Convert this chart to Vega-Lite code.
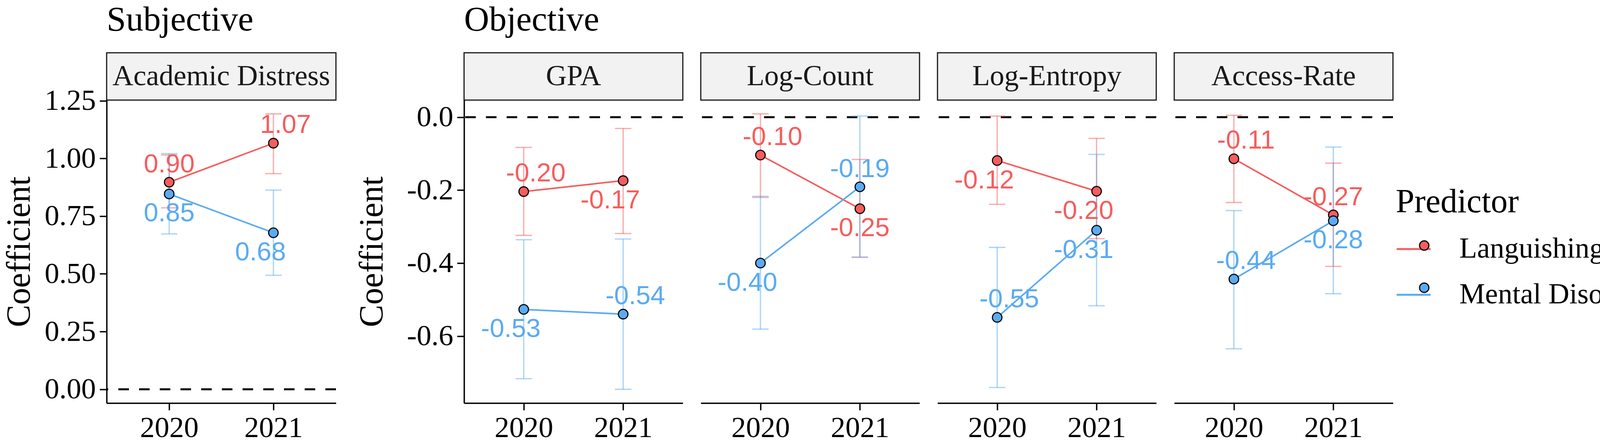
{
  "$schema": "https://vega.github.io/schema/vega-lite/v6.json",
  "background": "white",
  "padding": {"left": 6, "top": 6, "right": 10, "bottom": 0},
  "datasets": {
    "ad": [
      {"year": "2020", "predictor": "Languishing", "coef": 0.897, "lo": 0.786, "hi": 1.015, "pos": "above"},
      {"year": "2020", "predictor": "Mental Disorder", "coef": 0.846, "lo": 0.673, "hi": 1.021, "pos": "below"},
      {"year": "2021", "predictor": "Languishing", "coef": 1.066, "lo": 0.934, "hi": 1.193, "pos": "above-right"},
      {"year": "2021", "predictor": "Mental Disorder", "coef": 0.678, "lo": 0.494, "hi": 0.863, "pos": "below-left"}
    ],
    "gpa": [
      {"year": "2020", "predictor": "Languishing", "coef": -0.204, "lo": -0.324, "hi": -0.083, "pos": "above-right"},
      {"year": "2021", "predictor": "Languishing", "coef": -0.174, "lo": -0.319, "hi": -0.031, "pos": "below-left"},
      {"year": "2020", "predictor": "Mental Disorder", "coef": -0.527, "lo": -0.717, "hi": -0.336, "pos": "below-left"},
      {"year": "2021", "predictor": "Mental Disorder", "coef": -0.540, "lo": -0.746, "hi": -0.334, "pos": "above-right"}
    ],
    "lc": [
      {"year": "2020", "predictor": "Languishing", "coef": -0.104, "lo": -0.220, "hi": 0.009, "pos": "above-right"},
      {"year": "2021", "predictor": "Languishing", "coef": -0.251, "lo": -0.384, "hi": -0.116, "pos": "below"},
      {"year": "2020", "predictor": "Mental Disorder", "coef": -0.400, "lo": -0.581, "hi": -0.217, "pos": "below-left"},
      {"year": "2021", "predictor": "Mental Disorder", "coef": -0.191, "lo": -0.384, "hi": 0.003, "pos": "above"}
    ],
    "le": [
      {"year": "2020", "predictor": "Languishing", "coef": -0.119, "lo": -0.239, "hi": 0.003, "pos": "below-left"},
      {"year": "2021", "predictor": "Languishing", "coef": -0.203, "lo": -0.333, "hi": -0.058, "pos": "below-left"},
      {"year": "2020", "predictor": "Mental Disorder", "coef": -0.549, "lo": -0.741, "hi": -0.357, "pos": "above-right"},
      {"year": "2021", "predictor": "Mental Disorder", "coef": -0.310, "lo": -0.517, "hi": -0.102, "pos": "below-left"}
    ],
    "ar": [
      {"year": "2020", "predictor": "Languishing", "coef": -0.114, "lo": -0.234, "hi": 0.005, "pos": "above-right"},
      {"year": "2021", "predictor": "Languishing", "coef": -0.268, "lo": -0.409, "hi": -0.126, "pos": "above"},
      {"year": "2020", "predictor": "Mental Disorder", "coef": -0.444, "lo": -0.635, "hi": -0.256, "pos": "above-right"},
      {"year": "2021", "predictor": "Mental Disorder", "coef": -0.284, "lo": -0.484, "hi": -0.082, "pos": "below"}
    ]
  },
  "hconcat": [
    {
      "title": "Subjective",
      "spacing": 0,
      "bounds": "flush",
      "vconcat": [
        {
          "width": 587, "height": 121,
          "data": {"values": [{"panel": "Academic Distress"}]},
          "view": {"fill": "#F2F2F2", "stroke": "#1A1A1A", "strokeWidth": 3},
          "mark": {"type": "text", "font": "Liberation Serif", "fontSize": 74, "color": "#1A1A1A", "baseline": "middle"},
          "encoding": {"text": {"field": "panel"}}
        },
        {
          "width": 587, "height": 775,
          "data": {"name": "ad"},
          "layer": [
            {"data": {"values": [{"ref": 0}]},
             "mark": {"type": "rule", "color": "black", "strokeWidth": 5, "strokeDash": [27, 26]},
             "encoding": {"y": {"field": "ref", "type": "quantitative", "scale": {"domain": [-0.0597, 1.2527], "nice": false, "zero": false}, "axis": {"values": [0, 0.25, 0.5, 0.75, 1, 1.25], "format": ".2f", "title": "Coefficient", "titlePadding": 20}}}},
            {"mark": {"type": "rule", "strokeWidth": 3.3, "opacity": 0.5},
             "encoding": {
               "x": {"field": "year", "type": "ordinal", "scale": {"type": "point", "padding": 0.6}, "axis": {"title": null}},
               "y": {"field": "lo", "type": "quantitative", "scale": {"domain": [-0.0597, 1.2527], "nice": false, "zero": false}, "axis": {"values": [0, 0.25, 0.5, 0.75, 1, 1.25], "format": ".2f", "title": "Coefficient", "titlePadding": 20}},
               "y2": {"field": "hi"},
               "color": {"field": "predictor", "type": "nominal", "sort": ["Languishing", "Mental Disorder"], "scale": {"range": ["#F65D5D", "#5AABF2"]}, "legend": null}}},
            {"mark": {"type": "tick", "size": 42, "thickness": 3.3, "opacity": 0.5},
             "encoding": {
               "x": {"field": "year", "type": "ordinal", "scale": {"type": "point", "padding": 0.6}, "axis": {"title": null}},
               "y": {"field": "lo", "type": "quantitative", "scale": {"domain": [-0.0597, 1.2527], "nice": false, "zero": false}, "axis": {"values": [0, 0.25, 0.5, 0.75, 1, 1.25], "format": ".2f", "title": "Coefficient", "titlePadding": 20}},
               "color": {"field": "predictor", "type": "nominal", "sort": ["Languishing", "Mental Disorder"], "scale": {"range": ["#F65D5D", "#5AABF2"]}, "legend": null}}},
            {"mark": {"type": "tick", "size": 42, "thickness": 3.3, "opacity": 0.5},
             "encoding": {
               "x": {"field": "year", "type": "ordinal", "scale": {"type": "point", "padding": 0.6}, "axis": {"title": null}},
               "y": {"field": "hi", "type": "quantitative", "scale": {"domain": [-0.0597, 1.2527], "nice": false, "zero": false}, "axis": {"values": [0, 0.25, 0.5, 0.75, 1, 1.25], "format": ".2f", "title": "Coefficient", "titlePadding": 20}},
               "color": {"field": "predictor", "type": "nominal", "sort": ["Languishing", "Mental Disorder"], "scale": {"range": ["#F65D5D", "#5AABF2"]}, "legend": null}}},
            {"mark": {"type": "line", "strokeWidth": 4},
             "encoding": {
               "x": {"field": "year", "type": "ordinal", "scale": {"type": "point", "padding": 0.6}, "axis": {"title": null}},
               "y": {"field": "coef", "type": "quantitative", "scale": {"domain": [-0.0597, 1.2527], "nice": false, "zero": false}, "axis": {"values": [0, 0.25, 0.5, 0.75, 1, 1.25], "format": ".2f", "title": "Coefficient", "titlePadding": 20}},
               "stroke": {"field": "predictor", "type": "nominal", "scale": {"range": ["#F65D5D", "#5AABF2"]},
                 "legend": {"title": "Predictor", "orient": "none", "legendX": 3300, "legendY": 340, "symbolType": "stroke", "symbolSize": 7569, "symbolStrokeWidth": 5, "labelOffset": 71}}}},
            {"mark": {"type": "point", "filled": true, "size": 600, "stroke": "black", "strokeWidth": 2.8, "opacity": 1},
             "encoding": {
               "x": {"field": "year", "type": "ordinal", "scale": {"type": "point", "padding": 0.6}, "axis": {"title": null}},
               "y": {"field": "coef", "type": "quantitative", "scale": {"domain": [-0.0597, 1.2527], "nice": false, "zero": false}, "axis": {"values": [0, 0.25, 0.5, 0.75, 1, 1.25], "format": ".2f", "title": "Coefficient", "titlePadding": 20}},
               "fill": {"field": "predictor", "type": "nominal", "scale": {"domain": ["Languishing", "Mental Disorder"], "range": ["#F65D5D", "#5AABF2"]},
                 "legend": {"title": " ", "orient": "none", "legendX": 3336, "legendY": 340, "symbolType": "circle", "symbolSize": 576, "symbolStrokeColor": "black", "symbolStrokeWidth": 2.8, "symbolOpacity": 1, "labelExpr": "''"}}}},
            {"transform": [{"filter": "datum.pos === 'above'"}],
             "mark": {"type": "text", "font": "Liberation Sans", "fontSize": 67, "baseline": "middle", "dx": 0, "dy": -45},
             "encoding": {
               "x": {"field": "year", "type": "ordinal", "scale": {"type": "point", "padding": 0.6}, "axis": {"title": null}},
               "y": {"field": "coef", "type": "quantitative", "scale": {"domain": [-0.0597, 1.2527], "nice": false, "zero": false}, "axis": {"values": [0, 0.25, 0.5, 0.75, 1, 1.25], "format": ".2f", "title": "Coefficient", "titlePadding": 20}},
               "text": {"field": "coef", "type": "quantitative", "format": ".2f"},
               "color": {"field": "predictor", "type": "nominal", "sort": ["Languishing", "Mental Disorder"], "scale": {"range": ["#F65D5D", "#5AABF2"]}, "legend": null}}},
            {"transform": [{"filter": "datum.pos === 'below'"}],
             "mark": {"type": "text", "font": "Liberation Sans", "fontSize": 67, "baseline": "middle", "dx": 0, "dy": 50},
             "encoding": {
               "x": {"field": "year", "type": "ordinal", "scale": {"type": "point", "padding": 0.6}, "axis": {"title": null}},
               "y": {"field": "coef", "type": "quantitative", "scale": {"domain": [-0.0597, 1.2527], "nice": false, "zero": false}, "axis": {"values": [0, 0.25, 0.5, 0.75, 1, 1.25], "format": ".2f", "title": "Coefficient", "titlePadding": 20}},
               "text": {"field": "coef", "type": "quantitative", "format": ".2f"},
               "color": {"field": "predictor", "type": "nominal", "sort": ["Languishing", "Mental Disorder"], "scale": {"range": ["#F65D5D", "#5AABF2"]}, "legend": null}}},
            {"transform": [{"filter": "datum.pos === 'above-right'"}],
             "mark": {"type": "text", "font": "Liberation Sans", "fontSize": 67, "baseline": "middle", "dx": 31, "dy": -46},
             "encoding": {
               "x": {"field": "year", "type": "ordinal", "scale": {"type": "point", "padding": 0.6}, "axis": {"title": null}},
               "y": {"field": "coef", "type": "quantitative", "scale": {"domain": [-0.0597, 1.2527], "nice": false, "zero": false}, "axis": {"values": [0, 0.25, 0.5, 0.75, 1, 1.25], "format": ".2f", "title": "Coefficient", "titlePadding": 20}},
               "text": {"field": "coef", "type": "quantitative", "format": ".2f"},
               "color": {"field": "predictor", "type": "nominal", "sort": ["Languishing", "Mental Disorder"], "scale": {"range": ["#F65D5D", "#5AABF2"]}, "legend": null}}},
            {"transform": [{"filter": "datum.pos === 'below-left'"}],
             "mark": {"type": "text", "font": "Liberation Sans", "fontSize": 67, "baseline": "middle", "dx": -33, "dy": 51},
             "encoding": {
               "x": {"field": "year", "type": "ordinal", "scale": {"type": "point", "padding": 0.6}, "axis": {"title": null}},
               "y": {"field": "coef", "type": "quantitative", "scale": {"domain": [-0.0597, 1.2527], "nice": false, "zero": false}, "axis": {"values": [0, 0.25, 0.5, 0.75, 1, 1.25], "format": ".2f", "title": "Coefficient", "titlePadding": 20}},
               "text": {"field": "coef", "type": "quantitative", "format": ".2f"},
               "color": {"field": "predictor", "type": "nominal", "sort": ["Languishing", "Mental Disorder"], "scale": {"range": ["#F65D5D", "#5AABF2"]}, "legend": null}}}
          ]
        }
      ]
    },
    {
      "title": "Objective",
      "spacing": 40,
      "hconcat": [
        {
          "spacing": 0,
          "bounds": "flush",
          "vconcat": [
            {
              "width": 560, "height": 121,
              "data": {"values": [{"panel": "GPA"}]},
              "view": {"fill": "#F2F2F2", "stroke": "#1A1A1A", "strokeWidth": 3},
              "mark": {"type": "text", "font": "Liberation Serif", "fontSize": 74, "color": "#1A1A1A", "baseline": "middle"},
              "encoding": {"text": {"field": "panel"}}
            },
            {
              "width": 560, "height": 775,
              "data": {"name": "gpa"},
              "layer": [
                {"data": {"values": [{"ref": 0}]},
                 "mark": {"type": "rule", "color": "black", "strokeWidth": 5, "strokeDash": [27, 26]},
                 "encoding": {"y": {"field": "ref", "type": "quantitative", "scale": {"domain": [-0.7838, 0.0468], "nice": false, "zero": false}, "axis": {"values": [-0.6, -0.4, -0.2, 0], "format": ".1f", "title": "Coefficient", "titlePadding": 45}}}},
                {"mark": {"type": "rule", "strokeWidth": 3.3, "opacity": 0.5},
                 "encoding": {
                   "x": {"field": "year", "type": "ordinal", "scale": {"type": "point", "padding": 0.6}, "axis": {"title": null}},
                   "y": {"field": "lo", "type": "quantitative", "scale": {"domain": [-0.7838, 0.0468], "nice": false, "zero": false}, "axis": {"values": [-0.6, -0.4, -0.2, 0], "format": ".1f", "title": "Coefficient", "titlePadding": 45}},
                   "y2": {"field": "hi"},
                   "color": {"field": "predictor", "type": "nominal", "sort": ["Languishing", "Mental Disorder"], "scale": {"range": ["#F65D5D", "#5AABF2"]}, "legend": null}}},
                {"mark": {"type": "tick", "size": 42, "thickness": 3.3, "opacity": 0.5},
                 "encoding": {
                   "x": {"field": "year", "type": "ordinal", "scale": {"type": "point", "padding": 0.6}, "axis": {"title": null}},
                   "y": {"field": "lo", "type": "quantitative", "scale": {"domain": [-0.7838, 0.0468], "nice": false, "zero": false}, "axis": {"values": [-0.6, -0.4, -0.2, 0], "format": ".1f", "title": "Coefficient", "titlePadding": 45}},
                   "color": {"field": "predictor", "type": "nominal", "sort": ["Languishing", "Mental Disorder"], "scale": {"range": ["#F65D5D", "#5AABF2"]}, "legend": null}}},
                {"mark": {"type": "tick", "size": 42, "thickness": 3.3, "opacity": 0.5},
                 "encoding": {
                   "x": {"field": "year", "type": "ordinal", "scale": {"type": "point", "padding": 0.6}, "axis": {"title": null}},
                   "y": {"field": "hi", "type": "quantitative", "scale": {"domain": [-0.7838, 0.0468], "nice": false, "zero": false}, "axis": {"values": [-0.6, -0.4, -0.2, 0], "format": ".1f", "title": "Coefficient", "titlePadding": 45}},
                   "color": {"field": "predictor", "type": "nominal", "sort": ["Languishing", "Mental Disorder"], "scale": {"range": ["#F65D5D", "#5AABF2"]}, "legend": null}}},
                {"mark": {"type": "line", "strokeWidth": 4},
                 "encoding": {
                   "x": {"field": "year", "type": "ordinal", "scale": {"type": "point", "padding": 0.6}, "axis": {"title": null}},
                   "y": {"field": "coef", "type": "quantitative", "scale": {"domain": [-0.7838, 0.0468], "nice": false, "zero": false}, "axis": {"values": [-0.6, -0.4, -0.2, 0], "format": ".1f", "title": "Coefficient", "titlePadding": 45}},
                   "stroke": {"field": "predictor", "type": "nominal", "scale": {"range": ["#F65D5D", "#5AABF2"]}}}},
                {"mark": {"type": "point", "filled": true, "size": 600, "stroke": "black", "strokeWidth": 2.8, "opacity": 1},
                 "encoding": {
                   "x": {"field": "year", "type": "ordinal", "scale": {"type": "point", "padding": 0.6}, "axis": {"title": null}},
                   "y": {"field": "coef", "type": "quantitative", "scale": {"domain": [-0.7838, 0.0468], "nice": false, "zero": false}, "axis": {"values": [-0.6, -0.4, -0.2, 0], "format": ".1f", "title": "Coefficient", "titlePadding": 45}},
                   "fill": {"field": "predictor", "type": "nominal", "scale": {"domain": ["Languishing", "Mental Disorder"], "range": ["#F65D5D", "#5AABF2"]}}}},
                {"transform": [{"filter": "datum.pos === 'above'"}],
                 "mark": {"type": "text", "font": "Liberation Sans", "fontSize": 67, "baseline": "middle", "dx": 0, "dy": -45},
                 "encoding": {
                   "x": {"field": "year", "type": "ordinal", "scale": {"type": "point", "padding": 0.6}, "axis": {"title": null}},
                   "y": {"field": "coef", "type": "quantitative", "scale": {"domain": [-0.7838, 0.0468], "nice": false, "zero": false}, "axis": {"values": [-0.6, -0.4, -0.2, 0], "format": ".1f", "title": "Coefficient", "titlePadding": 45}},
                   "text": {"field": "coef", "type": "quantitative", "format": ".2f"},
                   "color": {"field": "predictor", "type": "nominal", "sort": ["Languishing", "Mental Disorder"], "scale": {"range": ["#F65D5D", "#5AABF2"]}, "legend": null}}},
                {"transform": [{"filter": "datum.pos === 'below'"}],
                 "mark": {"type": "text", "font": "Liberation Sans", "fontSize": 67, "baseline": "middle", "dx": 0, "dy": 50},
                 "encoding": {
                   "x": {"field": "year", "type": "ordinal", "scale": {"type": "point", "padding": 0.6}, "axis": {"title": null}},
                   "y": {"field": "coef", "type": "quantitative", "scale": {"domain": [-0.7838, 0.0468], "nice": false, "zero": false}, "axis": {"values": [-0.6, -0.4, -0.2, 0], "format": ".1f", "title": "Coefficient", "titlePadding": 45}},
                   "text": {"field": "coef", "type": "quantitative", "format": ".2f"},
                   "color": {"field": "predictor", "type": "nominal", "sort": ["Languishing", "Mental Disorder"], "scale": {"range": ["#F65D5D", "#5AABF2"]}, "legend": null}}},
                {"transform": [{"filter": "datum.pos === 'above-right'"}],
                 "mark": {"type": "text", "font": "Liberation Sans", "fontSize": 67, "baseline": "middle", "dx": 31, "dy": -46},
                 "encoding": {
                   "x": {"field": "year", "type": "ordinal", "scale": {"type": "point", "padding": 0.6}, "axis": {"title": null}},
                   "y": {"field": "coef", "type": "quantitative", "scale": {"domain": [-0.7838, 0.0468], "nice": false, "zero": false}, "axis": {"values": [-0.6, -0.4, -0.2, 0], "format": ".1f", "title": "Coefficient", "titlePadding": 45}},
                   "text": {"field": "coef", "type": "quantitative", "format": ".2f"},
                   "color": {"field": "predictor", "type": "nominal", "sort": ["Languishing", "Mental Disorder"], "scale": {"range": ["#F65D5D", "#5AABF2"]}, "legend": null}}},
                {"transform": [{"filter": "datum.pos === 'below-left'"}],
                 "mark": {"type": "text", "font": "Liberation Sans", "fontSize": 67, "baseline": "middle", "dx": -33, "dy": 51},
                 "encoding": {
                   "x": {"field": "year", "type": "ordinal", "scale": {"type": "point", "padding": 0.6}, "axis": {"title": null}},
                   "y": {"field": "coef", "type": "quantitative", "scale": {"domain": [-0.7838, 0.0468], "nice": false, "zero": false}, "axis": {"values": [-0.6, -0.4, -0.2, 0], "format": ".1f", "title": "Coefficient", "titlePadding": 45}},
                   "text": {"field": "coef", "type": "quantitative", "format": ".2f"},
                   "color": {"field": "predictor", "type": "nominal", "sort": ["Languishing", "Mental Disorder"], "scale": {"range": ["#F65D5D", "#5AABF2"]}, "legend": null}}}
              ]
            }
          ]
        },
        {
          "spacing": 0,
          "bounds": "flush",
          "vconcat": [
            {
              "width": 560, "height": 121,
              "data": {"values": [{"panel": "Log-Count"}]},
              "view": {"fill": "#F2F2F2", "stroke": "#1A1A1A", "strokeWidth": 3},
              "mark": {"type": "text", "font": "Liberation Serif", "fontSize": 74, "color": "#1A1A1A", "baseline": "middle"},
              "encoding": {"text": {"field": "panel"}}
            },
            {
              "width": 560, "height": 775,
              "data": {"name": "lc"},
              "layer": [
                {"data": {"values": [{"ref": 0}]},
                 "mark": {"type": "rule", "color": "black", "strokeWidth": 5, "strokeDash": [27, 26]},
                 "encoding": {"y": {"field": "ref", "type": "quantitative", "scale": {"domain": [-0.7838, 0.0468], "nice": false, "zero": false}, "axis": null}}},
                {"mark": {"type": "rule", "strokeWidth": 3.3, "opacity": 0.5},
                 "encoding": {
                   "x": {"field": "year", "type": "ordinal", "scale": {"type": "point", "padding": 0.6}, "axis": {"title": null}},
                   "y": {"field": "lo", "type": "quantitative", "scale": {"domain": [-0.7838, 0.0468], "nice": false, "zero": false}, "axis": null},
                   "y2": {"field": "hi"},
                   "color": {"field": "predictor", "type": "nominal", "sort": ["Languishing", "Mental Disorder"], "scale": {"range": ["#F65D5D", "#5AABF2"]}, "legend": null}}},
                {"mark": {"type": "tick", "size": 42, "thickness": 3.3, "opacity": 0.5},
                 "encoding": {
                   "x": {"field": "year", "type": "ordinal", "scale": {"type": "point", "padding": 0.6}, "axis": {"title": null}},
                   "y": {"field": "lo", "type": "quantitative", "scale": {"domain": [-0.7838, 0.0468], "nice": false, "zero": false}, "axis": null},
                   "color": {"field": "predictor", "type": "nominal", "sort": ["Languishing", "Mental Disorder"], "scale": {"range": ["#F65D5D", "#5AABF2"]}, "legend": null}}},
                {"mark": {"type": "tick", "size": 42, "thickness": 3.3, "opacity": 0.5},
                 "encoding": {
                   "x": {"field": "year", "type": "ordinal", "scale": {"type": "point", "padding": 0.6}, "axis": {"title": null}},
                   "y": {"field": "hi", "type": "quantitative", "scale": {"domain": [-0.7838, 0.0468], "nice": false, "zero": false}, "axis": null},
                   "color": {"field": "predictor", "type": "nominal", "sort": ["Languishing", "Mental Disorder"], "scale": {"range": ["#F65D5D", "#5AABF2"]}, "legend": null}}},
                {"mark": {"type": "line", "strokeWidth": 4},
                 "encoding": {
                   "x": {"field": "year", "type": "ordinal", "scale": {"type": "point", "padding": 0.6}, "axis": {"title": null}},
                   "y": {"field": "coef", "type": "quantitative", "scale": {"domain": [-0.7838, 0.0468], "nice": false, "zero": false}, "axis": null},
                   "stroke": {"field": "predictor", "type": "nominal", "scale": {"range": ["#F65D5D", "#5AABF2"]}}}},
                {"mark": {"type": "point", "filled": true, "size": 600, "stroke": "black", "strokeWidth": 2.8, "opacity": 1},
                 "encoding": {
                   "x": {"field": "year", "type": "ordinal", "scale": {"type": "point", "padding": 0.6}, "axis": {"title": null}},
                   "y": {"field": "coef", "type": "quantitative", "scale": {"domain": [-0.7838, 0.0468], "nice": false, "zero": false}, "axis": null},
                   "fill": {"field": "predictor", "type": "nominal", "scale": {"domain": ["Languishing", "Mental Disorder"], "range": ["#F65D5D", "#5AABF2"]}}}},
                {"transform": [{"filter": "datum.pos === 'above'"}],
                 "mark": {"type": "text", "font": "Liberation Sans", "fontSize": 67, "baseline": "middle", "dx": 0, "dy": -45},
                 "encoding": {
                   "x": {"field": "year", "type": "ordinal", "scale": {"type": "point", "padding": 0.6}, "axis": {"title": null}},
                   "y": {"field": "coef", "type": "quantitative", "scale": {"domain": [-0.7838, 0.0468], "nice": false, "zero": false}, "axis": null},
                   "text": {"field": "coef", "type": "quantitative", "format": ".2f"},
                   "color": {"field": "predictor", "type": "nominal", "sort": ["Languishing", "Mental Disorder"], "scale": {"range": ["#F65D5D", "#5AABF2"]}, "legend": null}}},
                {"transform": [{"filter": "datum.pos === 'below'"}],
                 "mark": {"type": "text", "font": "Liberation Sans", "fontSize": 67, "baseline": "middle", "dx": 0, "dy": 50},
                 "encoding": {
                   "x": {"field": "year", "type": "ordinal", "scale": {"type": "point", "padding": 0.6}, "axis": {"title": null}},
                   "y": {"field": "coef", "type": "quantitative", "scale": {"domain": [-0.7838, 0.0468], "nice": false, "zero": false}, "axis": null},
                   "text": {"field": "coef", "type": "quantitative", "format": ".2f"},
                   "color": {"field": "predictor", "type": "nominal", "sort": ["Languishing", "Mental Disorder"], "scale": {"range": ["#F65D5D", "#5AABF2"]}, "legend": null}}},
                {"transform": [{"filter": "datum.pos === 'above-right'"}],
                 "mark": {"type": "text", "font": "Liberation Sans", "fontSize": 67, "baseline": "middle", "dx": 31, "dy": -46},
                 "encoding": {
                   "x": {"field": "year", "type": "ordinal", "scale": {"type": "point", "padding": 0.6}, "axis": {"title": null}},
                   "y": {"field": "coef", "type": "quantitative", "scale": {"domain": [-0.7838, 0.0468], "nice": false, "zero": false}, "axis": null},
                   "text": {"field": "coef", "type": "quantitative", "format": ".2f"},
                   "color": {"field": "predictor", "type": "nominal", "sort": ["Languishing", "Mental Disorder"], "scale": {"range": ["#F65D5D", "#5AABF2"]}, "legend": null}}},
                {"transform": [{"filter": "datum.pos === 'below-left'"}],
                 "mark": {"type": "text", "font": "Liberation Sans", "fontSize": 67, "baseline": "middle", "dx": -33, "dy": 51},
                 "encoding": {
                   "x": {"field": "year", "type": "ordinal", "scale": {"type": "point", "padding": 0.6}, "axis": {"title": null}},
                   "y": {"field": "coef", "type": "quantitative", "scale": {"domain": [-0.7838, 0.0468], "nice": false, "zero": false}, "axis": null},
                   "text": {"field": "coef", "type": "quantitative", "format": ".2f"},
                   "color": {"field": "predictor", "type": "nominal", "sort": ["Languishing", "Mental Disorder"], "scale": {"range": ["#F65D5D", "#5AABF2"]}, "legend": null}}}
              ]
            }
          ]
        },
        {
          "spacing": 0,
          "bounds": "flush",
          "vconcat": [
            {
              "width": 560, "height": 121,
              "data": {"values": [{"panel": "Log-Entropy"}]},
              "view": {"fill": "#F2F2F2", "stroke": "#1A1A1A", "strokeWidth": 3},
              "mark": {"type": "text", "font": "Liberation Serif", "fontSize": 74, "color": "#1A1A1A", "baseline": "middle"},
              "encoding": {"text": {"field": "panel"}}
            },
            {
              "width": 560, "height": 775,
              "data": {"name": "le"},
              "layer": [
                {"data": {"values": [{"ref": 0}]},
                 "mark": {"type": "rule", "color": "black", "strokeWidth": 5, "strokeDash": [27, 26]},
                 "encoding": {"y": {"field": "ref", "type": "quantitative", "scale": {"domain": [-0.7838, 0.0468], "nice": false, "zero": false}, "axis": null}}},
                {"mark": {"type": "rule", "strokeWidth": 3.3, "opacity": 0.5},
                 "encoding": {
                   "x": {"field": "year", "type": "ordinal", "scale": {"type": "point", "padding": 0.6}, "axis": {"title": null}},
                   "y": {"field": "lo", "type": "quantitative", "scale": {"domain": [-0.7838, 0.0468], "nice": false, "zero": false}, "axis": null},
                   "y2": {"field": "hi"},
                   "color": {"field": "predictor", "type": "nominal", "sort": ["Languishing", "Mental Disorder"], "scale": {"range": ["#F65D5D", "#5AABF2"]}, "legend": null}}},
                {"mark": {"type": "tick", "size": 42, "thickness": 3.3, "opacity": 0.5},
                 "encoding": {
                   "x": {"field": "year", "type": "ordinal", "scale": {"type": "point", "padding": 0.6}, "axis": {"title": null}},
                   "y": {"field": "lo", "type": "quantitative", "scale": {"domain": [-0.7838, 0.0468], "nice": false, "zero": false}, "axis": null},
                   "color": {"field": "predictor", "type": "nominal", "sort": ["Languishing", "Mental Disorder"], "scale": {"range": ["#F65D5D", "#5AABF2"]}, "legend": null}}},
                {"mark": {"type": "tick", "size": 42, "thickness": 3.3, "opacity": 0.5},
                 "encoding": {
                   "x": {"field": "year", "type": "ordinal", "scale": {"type": "point", "padding": 0.6}, "axis": {"title": null}},
                   "y": {"field": "hi", "type": "quantitative", "scale": {"domain": [-0.7838, 0.0468], "nice": false, "zero": false}, "axis": null},
                   "color": {"field": "predictor", "type": "nominal", "sort": ["Languishing", "Mental Disorder"], "scale": {"range": ["#F65D5D", "#5AABF2"]}, "legend": null}}},
                {"mark": {"type": "line", "strokeWidth": 4},
                 "encoding": {
                   "x": {"field": "year", "type": "ordinal", "scale": {"type": "point", "padding": 0.6}, "axis": {"title": null}},
                   "y": {"field": "coef", "type": "quantitative", "scale": {"domain": [-0.7838, 0.0468], "nice": false, "zero": false}, "axis": null},
                   "stroke": {"field": "predictor", "type": "nominal", "scale": {"range": ["#F65D5D", "#5AABF2"]}}}},
                {"mark": {"type": "point", "filled": true, "size": 600, "stroke": "black", "strokeWidth": 2.8, "opacity": 1},
                 "encoding": {
                   "x": {"field": "year", "type": "ordinal", "scale": {"type": "point", "padding": 0.6}, "axis": {"title": null}},
                   "y": {"field": "coef", "type": "quantitative", "scale": {"domain": [-0.7838, 0.0468], "nice": false, "zero": false}, "axis": null},
                   "fill": {"field": "predictor", "type": "nominal", "scale": {"domain": ["Languishing", "Mental Disorder"], "range": ["#F65D5D", "#5AABF2"]}}}},
                {"transform": [{"filter": "datum.pos === 'above'"}],
                 "mark": {"type": "text", "font": "Liberation Sans", "fontSize": 67, "baseline": "middle", "dx": 0, "dy": -45},
                 "encoding": {
                   "x": {"field": "year", "type": "ordinal", "scale": {"type": "point", "padding": 0.6}, "axis": {"title": null}},
                   "y": {"field": "coef", "type": "quantitative", "scale": {"domain": [-0.7838, 0.0468], "nice": false, "zero": false}, "axis": null},
                   "text": {"field": "coef", "type": "quantitative", "format": ".2f"},
                   "color": {"field": "predictor", "type": "nominal", "sort": ["Languishing", "Mental Disorder"], "scale": {"range": ["#F65D5D", "#5AABF2"]}, "legend": null}}},
                {"transform": [{"filter": "datum.pos === 'below'"}],
                 "mark": {"type": "text", "font": "Liberation Sans", "fontSize": 67, "baseline": "middle", "dx": 0, "dy": 50},
                 "encoding": {
                   "x": {"field": "year", "type": "ordinal", "scale": {"type": "point", "padding": 0.6}, "axis": {"title": null}},
                   "y": {"field": "coef", "type": "quantitative", "scale": {"domain": [-0.7838, 0.0468], "nice": false, "zero": false}, "axis": null},
                   "text": {"field": "coef", "type": "quantitative", "format": ".2f"},
                   "color": {"field": "predictor", "type": "nominal", "sort": ["Languishing", "Mental Disorder"], "scale": {"range": ["#F65D5D", "#5AABF2"]}, "legend": null}}},
                {"transform": [{"filter": "datum.pos === 'above-right'"}],
                 "mark": {"type": "text", "font": "Liberation Sans", "fontSize": 67, "baseline": "middle", "dx": 31, "dy": -46},
                 "encoding": {
                   "x": {"field": "year", "type": "ordinal", "scale": {"type": "point", "padding": 0.6}, "axis": {"title": null}},
                   "y": {"field": "coef", "type": "quantitative", "scale": {"domain": [-0.7838, 0.0468], "nice": false, "zero": false}, "axis": null},
                   "text": {"field": "coef", "type": "quantitative", "format": ".2f"},
                   "color": {"field": "predictor", "type": "nominal", "sort": ["Languishing", "Mental Disorder"], "scale": {"range": ["#F65D5D", "#5AABF2"]}, "legend": null}}},
                {"transform": [{"filter": "datum.pos === 'below-left'"}],
                 "mark": {"type": "text", "font": "Liberation Sans", "fontSize": 67, "baseline": "middle", "dx": -33, "dy": 51},
                 "encoding": {
                   "x": {"field": "year", "type": "ordinal", "scale": {"type": "point", "padding": 0.6}, "axis": {"title": null}},
                   "y": {"field": "coef", "type": "quantitative", "scale": {"domain": [-0.7838, 0.0468], "nice": false, "zero": false}, "axis": null},
                   "text": {"field": "coef", "type": "quantitative", "format": ".2f"},
                   "color": {"field": "predictor", "type": "nominal", "sort": ["Languishing", "Mental Disorder"], "scale": {"range": ["#F65D5D", "#5AABF2"]}, "legend": null}}}
              ]
            }
          ]
        },
        {
          "spacing": 0,
          "bounds": "flush",
          "vconcat": [
            {
              "width": 560, "height": 121,
              "data": {"values": [{"panel": "Access-Rate"}]},
              "view": {"fill": "#F2F2F2", "stroke": "#1A1A1A", "strokeWidth": 3},
              "mark": {"type": "text", "font": "Liberation Serif", "fontSize": 74, "color": "#1A1A1A", "baseline": "middle"},
              "encoding": {"text": {"field": "panel"}}
            },
            {
              "width": 560, "height": 775,
              "data": {"name": "ar"},
              "layer": [
                {"data": {"values": [{"ref": 0}]},
                 "mark": {"type": "rule", "color": "black", "strokeWidth": 5, "strokeDash": [27, 26]},
                 "encoding": {"y": {"field": "ref", "type": "quantitative", "scale": {"domain": [-0.7838, 0.0468], "nice": false, "zero": false}, "axis": null}}},
                {"mark": {"type": "rule", "strokeWidth": 3.3, "opacity": 0.5},
                 "encoding": {
                   "x": {"field": "year", "type": "ordinal", "scale": {"type": "point", "padding": 0.6}, "axis": {"title": null}},
                   "y": {"field": "lo", "type": "quantitative", "scale": {"domain": [-0.7838, 0.0468], "nice": false, "zero": false}, "axis": null},
                   "y2": {"field": "hi"},
                   "color": {"field": "predictor", "type": "nominal", "sort": ["Languishing", "Mental Disorder"], "scale": {"range": ["#F65D5D", "#5AABF2"]}, "legend": null}}},
                {"mark": {"type": "tick", "size": 42, "thickness": 3.3, "opacity": 0.5},
                 "encoding": {
                   "x": {"field": "year", "type": "ordinal", "scale": {"type": "point", "padding": 0.6}, "axis": {"title": null}},
                   "y": {"field": "lo", "type": "quantitative", "scale": {"domain": [-0.7838, 0.0468], "nice": false, "zero": false}, "axis": null},
                   "color": {"field": "predictor", "type": "nominal", "sort": ["Languishing", "Mental Disorder"], "scale": {"range": ["#F65D5D", "#5AABF2"]}, "legend": null}}},
                {"mark": {"type": "tick", "size": 42, "thickness": 3.3, "opacity": 0.5},
                 "encoding": {
                   "x": {"field": "year", "type": "ordinal", "scale": {"type": "point", "padding": 0.6}, "axis": {"title": null}},
                   "y": {"field": "hi", "type": "quantitative", "scale": {"domain": [-0.7838, 0.0468], "nice": false, "zero": false}, "axis": null},
                   "color": {"field": "predictor", "type": "nominal", "sort": ["Languishing", "Mental Disorder"], "scale": {"range": ["#F65D5D", "#5AABF2"]}, "legend": null}}},
                {"mark": {"type": "line", "strokeWidth": 4},
                 "encoding": {
                   "x": {"field": "year", "type": "ordinal", "scale": {"type": "point", "padding": 0.6}, "axis": {"title": null}},
                   "y": {"field": "coef", "type": "quantitative", "scale": {"domain": [-0.7838, 0.0468], "nice": false, "zero": false}, "axis": null},
                   "stroke": {"field": "predictor", "type": "nominal", "scale": {"range": ["#F65D5D", "#5AABF2"]}}}},
                {"mark": {"type": "point", "filled": true, "size": 600, "stroke": "black", "strokeWidth": 2.8, "opacity": 1},
                 "encoding": {
                   "x": {"field": "year", "type": "ordinal", "scale": {"type": "point", "padding": 0.6}, "axis": {"title": null}},
                   "y": {"field": "coef", "type": "quantitative", "scale": {"domain": [-0.7838, 0.0468], "nice": false, "zero": false}, "axis": null},
                   "fill": {"field": "predictor", "type": "nominal", "scale": {"domain": ["Languishing", "Mental Disorder"], "range": ["#F65D5D", "#5AABF2"]}}}},
                {"transform": [{"filter": "datum.pos === 'above'"}],
                 "mark": {"type": "text", "font": "Liberation Sans", "fontSize": 67, "baseline": "middle", "dx": 0, "dy": -45},
                 "encoding": {
                   "x": {"field": "year", "type": "ordinal", "scale": {"type": "point", "padding": 0.6}, "axis": {"title": null}},
                   "y": {"field": "coef", "type": "quantitative", "scale": {"domain": [-0.7838, 0.0468], "nice": false, "zero": false}, "axis": null},
                   "text": {"field": "coef", "type": "quantitative", "format": ".2f"},
                   "color": {"field": "predictor", "type": "nominal", "sort": ["Languishing", "Mental Disorder"], "scale": {"range": ["#F65D5D", "#5AABF2"]}, "legend": null}}},
                {"transform": [{"filter": "datum.pos === 'below'"}],
                 "mark": {"type": "text", "font": "Liberation Sans", "fontSize": 67, "baseline": "middle", "dx": 0, "dy": 50},
                 "encoding": {
                   "x": {"field": "year", "type": "ordinal", "scale": {"type": "point", "padding": 0.6}, "axis": {"title": null}},
                   "y": {"field": "coef", "type": "quantitative", "scale": {"domain": [-0.7838, 0.0468], "nice": false, "zero": false}, "axis": null},
                   "text": {"field": "coef", "type": "quantitative", "format": ".2f"},
                   "color": {"field": "predictor", "type": "nominal", "sort": ["Languishing", "Mental Disorder"], "scale": {"range": ["#F65D5D", "#5AABF2"]}, "legend": null}}},
                {"transform": [{"filter": "datum.pos === 'above-right'"}],
                 "mark": {"type": "text", "font": "Liberation Sans", "fontSize": 67, "baseline": "middle", "dx": 31, "dy": -46},
                 "encoding": {
                   "x": {"field": "year", "type": "ordinal", "scale": {"type": "point", "padding": 0.6}, "axis": {"title": null}},
                   "y": {"field": "coef", "type": "quantitative", "scale": {"domain": [-0.7838, 0.0468], "nice": false, "zero": false}, "axis": null},
                   "text": {"field": "coef", "type": "quantitative", "format": ".2f"},
                   "color": {"field": "predictor", "type": "nominal", "sort": ["Languishing", "Mental Disorder"], "scale": {"range": ["#F65D5D", "#5AABF2"]}, "legend": null}}},
                {"transform": [{"filter": "datum.pos === 'below-left'"}],
                 "mark": {"type": "text", "font": "Liberation Sans", "fontSize": 67, "baseline": "middle", "dx": -33, "dy": 51},
                 "encoding": {
                   "x": {"field": "year", "type": "ordinal", "scale": {"type": "point", "padding": 0.6}, "axis": {"title": null}},
                   "y": {"field": "coef", "type": "quantitative", "scale": {"domain": [-0.7838, 0.0468], "nice": false, "zero": false}, "axis": null},
                   "text": {"field": "coef", "type": "quantitative", "format": ".2f"},
                   "color": {"field": "predictor", "type": "nominal", "sort": ["Languishing", "Mental Disorder"], "scale": {"range": ["#F65D5D", "#5AABF2"]}, "legend": null}}}
              ]
            }
          ]
        }
      ]
    }
  ],
  "spacing": 46,
  "config": {
    "view": {"stroke": null},
    "font": "Liberation Serif",
    "locale": {"number": {"decimal": ".", "thousands": ",", "grouping": [3], "currency": ["$", ""], "minus": "-"}},
    "title": {"font": "Liberation Serif", "fontSize": 89, "fontWeight": "normal", "color": "black", "anchor": "start", "frame": "group", "offset": 37},
    "axis": {"domainColor": "black", "domainWidth": 3.5, "tickColor": "black", "tickWidth": 3.5, "tickSize": 18, "labelFont": "Liberation Serif", "labelFontSize": 75, "labelColor": "black", "titleFont": "Liberation Serif", "titleFontSize": 86, "titleFontWeight": "normal", "titleColor": "black", "grid": false},
    "axisX": {"labelAngle": 0, "labelPadding": 9},
    "axisY": {"labelPadding": 10},
    "legend": {"titleFont": "Liberation Serif", "titleFontSize": 86, "titleFontWeight": "normal", "titleColor": "black", "labelFont": "Liberation Serif", "labelFontSize": 74, "labelColor": "black", "titlePadding": 30, "rowPadding": 34, "labelLimit": 2000, "titleLimit": 2000}
  }
}
